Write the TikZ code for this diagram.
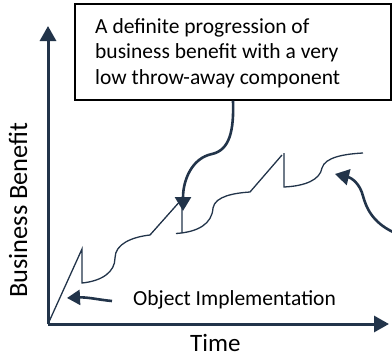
\documentclass[tikz,border=0pt]{standalone}
\usepackage{fontspec}
\setmainfont{Carlito}
\usetikzlibrary{arrows.meta}
\definecolor{navy}{HTML}{22344A}
\begin{document}
\begin{tikzpicture}[x=1bp,y=-1bp,
  axis/.style={navy,line width=3bp,-{Triangle[length=15bp,width=16bp]}},
  curve/.style={navy,line width=1.3bp,line join=miter},
  callout/.style={navy,line width=2.6bp,-{Triangle[length=14bp,width=16bp]}},
  lbl/.style={inner sep=0pt,text=black},
  boxtext/.style={lbl,font=\fontsize{21.5bp}{25bp}\selectfont,anchor=base west},
]
\useasboundingbox (0,0) rectangle (392,358);
% axes
\coordinate (O) at (48,324);
\coordinate (ytop) at (48,26);
\coordinate (xend) at (389,324);
\draw[axis] (O) -- (ytop);
\draw[axis] (O) -- (xend);
% benefit curve
\draw[curve] (O) -- (82,249) -- (82,283)
  .. controls (102,281) and (115,272) .. (115,258)
  .. controls (115,244) and (132,237) .. (150,235) -- (182,199) -- (182,233);
\draw[curve] (176,233.5) .. controls (198,232) and (212,224) .. (213,208)
  .. controls (215,196) and (235,193) .. (250,192) -- (282,155);
\draw[curve] (284,153) -- (284,187) .. controls (305,186) and (320,180) .. (322,168)
  .. controls (325,157) and (345,154) .. (363,153);
% callout box
\node[draw=black,line width=1.3bp,minimum width=316bp,minimum height=96bp,inner sep=0pt] (box) at (233,52) {};
\node[boxtext] (t1) at (95,33) {A definite progression of};
\node[boxtext] (t2) at (95,58.5) {business benefit with a very};
\node[boxtext] (t3) at (95,84) {low throw-away component};
% labels
\node[lbl,rotate=90,anchor=base west,font=\fontsize{26.4bp}{30bp}\selectfont] (ylab) at (27,298) {Business Benefit};
\node[lbl,anchor=base west,font=\fontsize{25bp}{29bp}\selectfont] (time) at (190,351.5) {Time};
\node[lbl,anchor=base west,font=\fontsize{21.5bp}{25bp}\selectfont] (oi) at (133,305.5) {Object Implementation};
% callout arrows
\coordinate (a1tip) at (183,211);
\draw[callout] (box.south) .. controls (234,130) and (230,150) .. (212,154)
  .. controls (192,158) and (183,180) .. (a1tip);
\coordinate (a2start) at (393,232);
\coordinate (a2tip) at (335,174);
\draw[callout] (a2start) .. controls (372,222) and (366,207) .. (363,196)
  .. controls (360,184) and (352,178) .. (a2tip);
\coordinate (a3start) at (112,301);
\coordinate (a3tip) at (67,298);
\draw[callout,-{Triangle[length=13bp,width=15bp]}] (a3start) .. controls (100,300) and (88,297) .. (a3tip);
\end{tikzpicture}
\end{document}
